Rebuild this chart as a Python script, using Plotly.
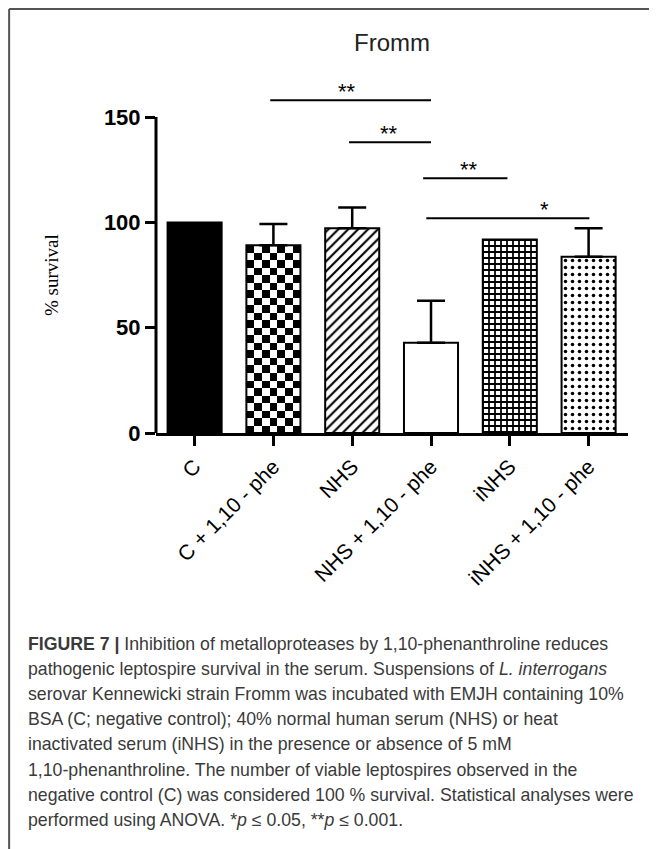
import plotly.graph_objects as go

# ---------------- data ----------------
categories = ["C", "C + 1,10 - phe", "NHS", "NHS + 1,10 - phe", "iNHS", "iNHS + 1,10 - phe"]
survival = [100, 89.2, 97.2, 42.9, 91.9, 83.7]
error_up = [0, 10.0, 9.9, 19.9, 0, 13.5]
y_ticks = [0, 50, 100, 150]

sig_x0 = [0.96, 1.96, 2.90, 2.94]
sig_x1 = [3.00, 3.00, 3.97, 5.01]
sig_y = [158.0, 138.1, 121.0, 102.0]
sig_label = ["**", "**", "**", "*"]
sig_label_x = [1.94, 2.47, 3.48, 4.44]

title_text = "Fromm"
y_title = "% survival"
caption_lines = [
    "<b>FIGURE 7 |</b> Inhibition of metalloproteases by 1,10-phenanthroline reduces",
    "pathogenic leptospire survival in the serum. Suspensions of <i>L. interrogans</i>",
    "serovar Kennewicki strain Fromm was incubated with EMJH containing 10%",
    "BSA (C; negative control); 40% normal human serum (NHS) or heat",
    "inactivated serum (iNHS) in the presence or absence of 5 mM",
    "1,10-phenanthroline. The number of viable leptospires observed in the",
    "negative control (C) was considered 100 % survival. Statistical analyses were",
    "performed using ANOVA. *<i>p</i> ≤ 0.05, **<i>p</i> ≤ 0.001.",
]

# ---------------- layout geometry ----------------
OFF = 8                      # default body margin of the html page
W, H = 657 - OFF, 849 - OFF  # figure size in the page
ML = 156 - OFF
MT = 75 - OFF
MR = 657 - 628.4
MB = 849 - 433
PW = W - ML - MR
PH = H - MT - MB
BAR_W = 0.686
Y_MAX = 170


def px_x(p):  # page x -> paper x
    return (p - OFF - ML) / PW


def px_y(p):  # page y -> paper y
    return (H - MB - (p - OFF)) / PH


fig = go.Figure()

# checkerboard fill for the "C + 1,10 - phe" bar, built from its value
chk_i = 1
n_cols, n_rows = 7, 25
dx = BAR_W / n_cols
dy = survival[chk_i] / n_rows
chk_x = [chk_i - BAR_W / 2 + dx * (c + 0.5) for c in range(n_cols)]
chk_y = [dy * (r + 0.5) for r in range(n_rows)]
chk_z = [[(r + c + 1) % 2 for c in range(n_cols)] for r in range(n_rows)]
fig.add_trace(go.Heatmap(
    x=chk_x, y=chk_y, z=chk_z,
    colorscale=[[0, "white"], [1, "black"]], showscale=False,
    zsmooth=False, hoverinfo="skip",
))

bar_colors = ["black", "rgba(0,0,0,0)", "white", "white", "white", "white"]
pat_shapes = ["", "", "/", "", "+", "."]
pat_sizes = [8, 8, 7, 8, 6, 7]
pat_solid = [0.3, 0.3, 0.3, 0.3, 0.5, 0.2]

for i, cat in enumerate(categories):
    marker = dict(color=bar_colors[i], line=dict(color="black", width=2))
    if pat_shapes[i]:
        marker["pattern"] = dict(shape=pat_shapes[i], fgcolor="black",
                                 bgcolor="white", fgopacity=1, size=pat_sizes[i],
                                 solidity=pat_solid[i], fillmode="replace")
    err = None
    if error_up[i] > 0:
        err = dict(type="data", symmetric=False, array=[error_up[i]],
                   arrayminus=[0], color="black", thickness=2.5, width=14)
    fig.add_trace(go.Bar(
        x=[i], y=[survival[i]], width=BAR_W, name=cat,
        marker=marker, error_y=err, hoverinfo="skip",
    ))

shapes = []
# y axis line only up to 150
shapes.append(dict(type="line", xref="paper", yref="y", x0=0, x1=0,
                   y0=0, y1=max(y_ticks), line=dict(color="black", width=3)))
# significance lines
for a, b, yy in zip(sig_x0, sig_x1, sig_y):
    shapes.append(dict(type="line", xref="x", yref="y", x0=a, x1=b, y0=yy, y1=yy,
                       line=dict(color="black", width=2)))
# frame (left and top)
shapes.append(dict(type="line", xref="paper", yref="paper", x0=px_x(9), x1=px_x(9),
                   y0=px_y(9), y1=px_y(860), line=dict(color="#555555", width=2)))
shapes.append(dict(type="line", xref="paper", yref="paper", x0=px_x(9), x1=px_x(670),
                   y0=px_y(9), y1=px_y(9), line=dict(color="#555555", width=2)))

annotations = []
for lab, xx, yy in zip(sig_label, sig_label_x, sig_y):
    annotations.append(dict(x=xx, y=yy, xref="x", yref="y", text=lab, showarrow=False,
                            xanchor="center", yanchor="bottom", yshift=-6,
                            font=dict(family="Liberation Sans, Arial", size=22, color="black")))
annotations.append(dict(x=px_x(392), y=px_y(42), xref="paper", yref="paper", text=title_text,
                        showarrow=False, xanchor="center", yanchor="middle",
                        font=dict(family="Liberation Sans, Arial", size=24, color="#222222")))
annotations.append(dict(x=px_x(51), y=px_y(275), xref="paper", yref="paper", text=y_title,
                        showarrow=False, textangle=-90, xanchor="center", yanchor="middle",
                        font=dict(family="Liberation Serif, Times New Roman", size=19, color="black")))
for i, line in enumerate(caption_lines):
    annotations.append(dict(x=px_x(26), y=px_y(644 + 25.1 * i), xref="paper", yref="paper",
                            text=line, showarrow=False, xanchor="left", yanchor="middle",
                            align="left",
                            font=dict(family="Liberation Sans, Arial", size=17.7, color="#3a3a3a")))

fig.update_layout(
    width=W, height=H,
    margin=dict(l=ML, r=MR, t=MT, b=MB, pad=0),
    paper_bgcolor="white", plot_bgcolor="white",
    showlegend=False, barmode="overlay",
    shapes=shapes, annotations=annotations,
    xaxis=dict(
        range=[-0.49, 5.5], tickmode="array", tickvals=list(range(len(categories))),
        ticktext=categories, tickangle=-45, ticks="outside", ticklen=10, tickwidth=3,
        tickcolor="black", showline=True, linecolor="black", linewidth=3,
        showgrid=False, zeroline=False,
        tickfont=dict(family="Liberation Sans, Arial", size=21, color="black"),
    ),
    yaxis=dict(
        range=[0, Y_MAX], tickmode="array", tickvals=y_ticks,
        ticktext=[str(v) for v in y_ticks],
        ticks="outside", ticklen=10, tickwidth=3, tickcolor="black",
        showline=False, showgrid=False, zeroline=False,
        tickfont=dict(family="Liberation Sans, Arial", size=22, color="black", weight="bold"),
    ),
)

fig.write_html("out.html")
